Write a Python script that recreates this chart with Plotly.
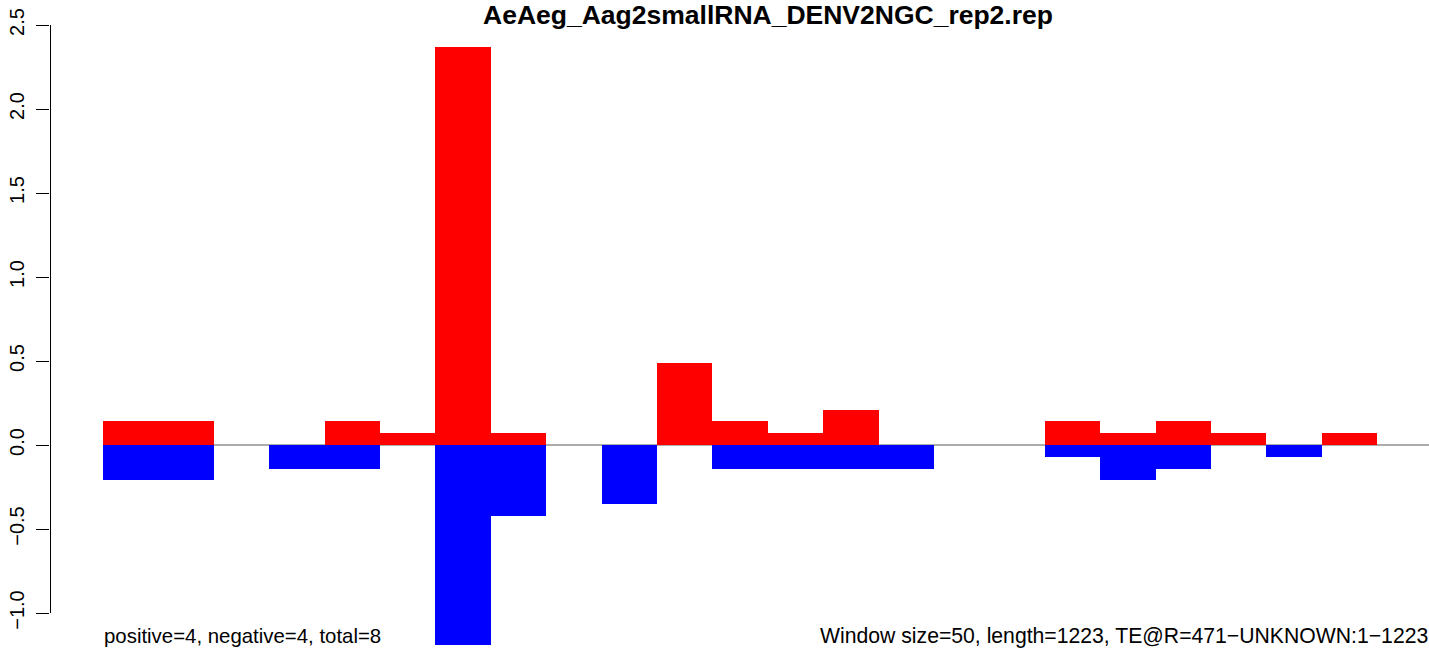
import plotly.graph_objects as go

# ---- data ----
window_size = 50
window_starts = [i * window_size for i in range(24)]
positive = [0.14, 0.14, 0, 0, 0.14, 0.07, 2.37, 0.07, 0, 0, 0.49, 0.14,
            0.07, 0.21, 0, 0, 0, 0.14, 0.07, 0.14, 0.07, 0, 0.07, 0]
negative = [-0.21, -0.21, 0, -0.14, -0.14, 0, -1.19, -0.42, 0, -0.35, 0, -0.14,
            -0.14, -0.14, -0.14, 0, 0, -0.07, -0.21, -0.14, 0, -0.07, 0, 0]
y_tickvals = [-1.0, -0.5, 0.0, 0.5, 1.0, 1.5, 2.0, 2.5]
y_ticktext = ["\u22121.0", "\u22120.5", "0.0", "0.5", "1.0", "1.5", "2.0", "2.5"]
title_text = "AeAeg_Aag2smallRNA_DENV2NGC_rep2.rep"
left_note = "positive=4, negative=4, total=8"
right_note = "Window size=50, length=1223, TE@R=471\u2212UNKNOWN:1\u22121223"

FONT = "Liberation Sans, Arial, Helvetica, sans-serif"
W, H = 1429, 656
ML, MR, MT, MB = 50, 0, 20, 6
px_per_bp = 55.4 / 50.0
x0_px = 103
x_lo = -(x0_px - ML) / px_per_bp
x_hi = (W - MR - x0_px) / px_per_bp
px_per_unit = 168.0
y0_px = 445
y_hi = (y0_px - MT) / px_per_unit
y_lo = -(H - MB - y0_px) / px_per_unit
plot_w = W - ML - MR
plot_h = H - MT - MB


def ypaper(v):
    return (v - y_lo) / (y_hi - y_lo)


def xpaper(px):
    return (px - ML) / plot_w


centers = [s + window_size / 2 for s in window_starts]

fig = go.Figure()
fig.add_trace(go.Bar(x=centers, y=positive, width=window_size,
                     marker=dict(color="#FF0000", line=dict(width=0)),
                     showlegend=False, hoverinfo="skip"))
fig.add_trace(go.Bar(x=centers, y=negative, width=window_size,
                     marker=dict(color="#0000FF", line=dict(width=0)),
                     showlegend=False, hoverinfo="skip"))

# zero line
fig.add_shape(type="line", xref="x", yref="y", x0=window_starts[0], x1=x_hi,
              y0=0, y1=0, line=dict(color="#5a5a5a", width=1.2), layer="below")
# y axis line spanning tick range
fig.add_shape(type="line", xref="paper", yref="paper", x0=xpaper(50.5), x1=xpaper(50.5),
              y0=ypaper(y_tickvals[0]), y1=ypaper(y_tickvals[-1]),
              line=dict(color="black", width=1))

y_text = 1 - (636 - MT) / plot_h
fig.add_annotation(x=xpaper(102), y=y_text, xref="paper", yref="paper",
                   text=left_note, showarrow=False, xanchor="left", yanchor="middle",
                   font=dict(family=FONT, size=20.4, color="black"))
fig.add_annotation(x=xpaper(1430), y=y_text, xref="paper", yref="paper",
                   text=right_note, showarrow=False, xanchor="right", yanchor="middle",
                   font=dict(family=FONT, size=21.2, color="black"))
fig.add_annotation(x=xpaper(768), y=1 + (MT - 15) / plot_h, xref="paper", yref="paper",
                   text="<b>" + title_text + "</b>", showarrow=False,
                   xanchor="center", yanchor="middle",
                   font=dict(family=FONT, size=26.5, color="black"))

fig.update_layout(
    width=W, height=H,
    margin=dict(l=ML, r=MR, t=MT, b=MB, pad=0),
    plot_bgcolor="white", paper_bgcolor="white",
    barmode="overlay", bargap=0,
    xaxis=dict(range=[x_lo, x_hi], visible=False, showgrid=False, zeroline=False),
    yaxis=dict(range=[y_lo, y_hi], tickvals=y_tickvals, ticktext=y_ticktext,
               tickangle=-90, ticks="outside", ticklen=13, tickwidth=1, tickcolor="black",
               ticklabelstandoff=4,
               showline=False, showgrid=False, zeroline=False,
               tickfont=dict(family=FONT, size=20, color="black")),
    font=dict(family=FONT),
)

fig.write_html("out.html", config={"displayModeBar": False},
               post_script="document.body.style.margin='0';document.body.style.overflow='hidden';")
